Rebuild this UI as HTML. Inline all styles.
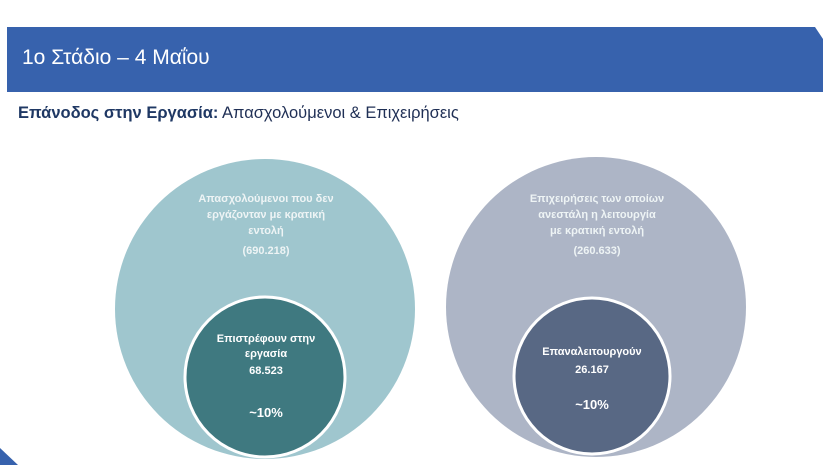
<!DOCTYPE html>
<html><head><meta charset="utf-8"><style>
body{margin:0;width:840px;height:465px;background:#fff;overflow:hidden;position:relative;font-family:"Liberation Sans","DejaVu Sans",sans-serif}
.hdr{position:absolute;left:7px;top:27px;width:816px;height:65px;background:#3762ad;clip-path:polygon(0 0,808px 0,816px 12px,816px 65px,0 65px)}
.hdr span{position:absolute;left:15px;top:19px;color:#fff;font-size:21px}
.sub{position:absolute;left:18px;top:104px;font-size:16.5px;color:#1f2f55}
.sub b{color:#1f3864}
svg{position:absolute;left:0;top:0}
svg text{font-family:"Liberation Sans","DejaVu Sans",sans-serif;font-weight:bold;text-anchor:middle}
</style></head><body>
<div class="hdr"><span>1ο Στάδιο – 4 Μαΐου</span></div>
<div class="sub"><b>Επάνοδος στην Εργασία:</b> Απασχολούμενοι &amp; Επιχειρήσεις</div>
<svg width="840" height="465">
<polygon points="0,448 0,465 18,465" fill="#3762ad"/>
<circle cx="265" cy="309" r="150" fill="#9fc6ce"/>
<circle cx="265" cy="377" r="80" fill="#3f7980" stroke="#fff" stroke-width="3"/>
<circle cx="596" cy="307" r="150" fill="#adb5c6"/>
<circle cx="592" cy="376" r="78" fill="#586884" stroke="#fff" stroke-width="3"/>
<g fill="#eef4f5" font-size="11">
<text x="266" y="202">Απασχολούμενοι που δεν</text>
<text x="266" y="218">εργάζονταν με κρατική</text>
<text x="266" y="234">εντολή</text>
<text x="266" y="254">(690.218)</text>
<text x="597" y="202">Επιχειρήσεις των οποίων</text>
<text x="597" y="218">ανεστάλη η λειτουργία</text>
<text x="597" y="234">με κρατική εντολή</text>
<text x="597" y="254">(260.633)</text>
</g>
<g fill="#fff" font-size="11">
<text x="266" y="342">Επιστρέφουν στην</text>
<text x="266" y="357">εργασία</text>
<text x="266" y="374">68.523</text>
<text x="266" y="417" font-size="13">~10%</text>
<text x="592" y="355">Επαναλειτουργούν</text>
<text x="592" y="373">26.167</text>
<text x="592" y="409" font-size="13">~10%</text>
</g>
</svg>
</body></html>
